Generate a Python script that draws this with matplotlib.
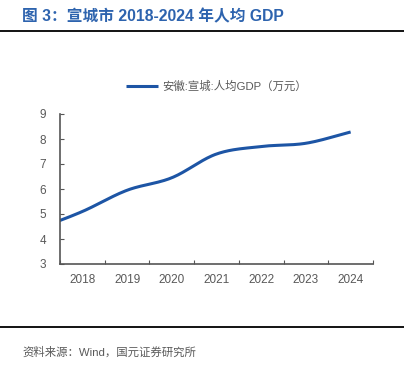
import numpy as np
import matplotlib.pyplot as plt
from matplotlib.lines import Line2D

plt.rcParams['font.family'] = ['Liberation Sans', 'Noto Sans CJK SC', 'DejaVu Sans']

# data (2017 only sits off the left edge)
years = ['2017', '2018', '2019', '2020', '2021', '2022', '2023', '2024']
gdp_pc = [4.40, 5.10, 5.95, 6.45, 7.40, 7.70, 7.83, 8.28]
tick_years = ['2018', '2019', '2020', '2021', '2022', '2023', '2024']

title = '图 3：宣城市 2018-2024 年人均 GDP'
series_name = '安徽:宣城:人均GDP（万元）'
source = '资料来源：Wind，国元证券研究所'

BLUE = '#1D55A5'
TITLE_BLUE = '#2D63AE'
GRAY = '#595959'
SPINE = '#555555'


def smooth(x, y, n=30):
    # catmull-rom, like the office "smoothed line"
    x = np.asarray(x, float)
    y = np.asarray(y, float)
    px = np.concatenate([[2 * x[0] - x[1]], x, [2 * x[-1] - x[-2]]])
    py = np.concatenate([[2 * y[0] - y[1]], y, [2 * y[-1] - y[-2]]])
    xs, ys = [], []
    t = np.linspace(0, 1, n)
    for i in range(1, len(px) - 2):
        for p, out in ((px, xs), (py, ys)):
            p0, p1, p2, p3 = p[i - 1], p[i], p[i + 1], p[i + 2]
            out.extend(0.5 * (2 * p1 + (-p0 + p2) * t
                              + (2 * p0 - 5 * p1 + 4 * p2 - p3) * t ** 2
                              + (-p0 + 3 * p1 - 3 * p2 + p3) * t ** 3))
    return np.array(xs), np.array(ys)


fig = plt.figure(figsize=(4.04, 3.65), dpi=100)

# header / footer
fig.text(22 / 404, 1 - 17 / 365, title, color=TITLE_BLUE, fontsize=11.3,
         fontweight='bold', va='center', ha='left',
         family=['Liberation Sans', 'Noto Sans CJK SC'])
fig.add_artist(Line2D([0, 1], [1 - 31 / 365] * 2, color='black', lw=1.3))
fig.add_artist(Line2D([0, 1], [1 - 327 / 365] * 2, color='black', lw=1.3))
fig.text(22 / 404, 1 - 352 / 365, source, color=GRAY, fontsize=8.2,
         va='center', ha='left')

ax = fig.add_axes([60 / 404, 1 - 264 / 365, (373 - 60) / 404, (264 - 114) / 365])
pos = np.arange(len(years)) - 1
sx, sy = smooth(pos, gdp_pc)
ax.plot(sx, sy, color=BLUE, lw=2.2, solid_capstyle='butt', label=series_name)

ax.set_xlim(-0.5, len(tick_years) - 0.5)
ax.set_ylim(3, 9)
ax.set_yticks(range(3, 10))
ax.set_xticks(np.arange(len(tick_years) + 1) - 0.5)
ax.set_xticklabels([])
ax.set_xticks(np.arange(len(tick_years)), minor=True)
ax.set_xticklabels(tick_years, minor=True)
ax.tick_params(axis='x', which='major', direction='in', length=3, color=SPINE)
ax.tick_params(axis='x', which='minor', length=0, pad=7, labelsize=8.5, labelcolor=GRAY)
ax.tick_params(axis='y', direction='in', length=3, color=SPINE, pad=10,
               labelsize=8.5, labelcolor=GRAY)
for s in ['top', 'right']:
    ax.spines[s].set_visible(False)
for s in ['left', 'bottom']:
    ax.spines[s].set_color(SPINE)
    ax.spines[s].set_linewidth(1.2)

leg = ax.legend(loc='center', bbox_to_anchor=(0.5, 1 + 28 / 150), frameon=False,
                fontsize=8.2, handlelength=2.8, handletextpad=0.4)
for t in leg.get_texts():
    t.set_color(GRAY)

fig.savefig('out.png', dpi=100)
